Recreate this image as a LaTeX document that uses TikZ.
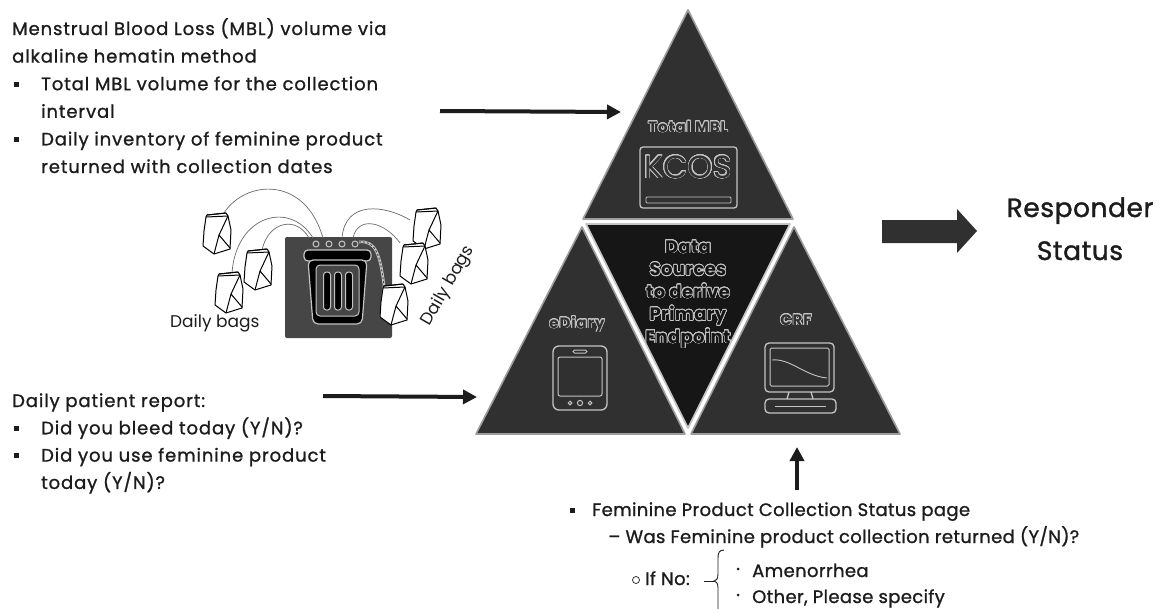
\documentclass[tikz,border=0pt]{standalone}
\usepackage{fontspec}
\setmainfont{Poppins}
\newfontfamily\leftface{Poppins}[FakeBold=1.1, LetterSpace=5]
\newfontfamily\bodyface{Poppins}[FakeBold=1.1, LetterSpace=2]
\newfontfamily\headface{Poppins}[FakeBold=1.3, LetterSpace=2]
\newfontfamily\tagface{Poppins Bold}[LetterSpace=6]
\newfontfamily\coreface{Poppins Bold}[LetterSpace=2]
\newfontfamily\lightface{Poppins}
\usepackage{contour}
\contourlength{0.7pt}
\contournumber{24}
\usetikzlibrary{arrows.meta}

\definecolor{ink}{HTML}{1C1C1C}
\definecolor{piece}{HTML}{303030}
\definecolor{core}{HTML}{161616}
\definecolor{rim}{HTML}{9C9C9C}
\definecolor{glow}{HTML}{C4C4C4}
\definecolor{binbg}{HTML}{464646}
\definecolor{wire}{HTML}{6A6A6A}

% outlined lettering on the dark panels
\newcommand{\hollow}[2]{\textcolor{#1}{\contour{glow}{#2}}}
% square list bullet and the matching hanging indent
\newcommand{\bulsq}[1]{\makebox[#1][l]{\hspace*{1.5pt}\rule[3.5pt]{5pt}{5pt}}}
\newcommand{\bulgap}{\hspace*{29pt}}

\tikzset{
  textblock/.style={anchor=base west, inner sep=0pt, text=ink},
  piecefill/.style={fill=piece, draw=rim, line width=1.6pt, line join=round},
  corefill/.style={fill=core, draw=glow, line width=1.6pt, line join=round},
  icon/.style={draw=glow, line width=1.3pt},
  feed/.style={draw=ink, line width=4pt, -{Triangle[length=14pt,width=14pt]}},
  wirecurve/.style={draw=wire, line width=0.7pt},
  tag/.style={inner sep=0pt, anchor=base, font=\fontsize{15}{18}\tagface},
  bagline/.style={draw=black, line width=1pt, line join=round},
  bag/.pic={
    \path[bagline, fill=white] (-10,-19) -- (9,-21) -- (11,-18) -- (14,-4) -- (13,15)
      -- (-3,20) -- (-14,12) -- (-13,-3) -- (-11,-17) -- cycle;
    \draw[bagline] (-11,-17) -- (11,-18);
    \draw[bagline] (-10,-19) -- (9,-21);
    \draw[bagline] (11,-18) -- (2,1) -- (-3,20) (2,1) -- (13,14);
  }
}

\begin{document}
\begin{tikzpicture}[x=1pt,y=-1pt]
\useasboundingbox (0,0) rectangle (1159,608);

% ---------- text on the left ----------
\node[textblock] (mbl) at (12,35) {\parbox[t]{450pt}{\fontsize{18}{27.6}\leftface
Menstrual Blood Loss (MBL) volume via\\
alkaline hematin method\\
\bulsq{29pt}Total MBL volume for the collection\\
\bulgap interval\\
\bulsq{29pt}Daily inventory of feminine product\\
\bulgap returned with collection dates}};

\node[textblock] (diary) at (12,407) {\parbox[t]{450pt}{\fontsize{18}{27.3}\leftface
Daily patient report:\\
\bulsq{29pt}Did you bleed today (Y/N)?\\
\bulsq{29pt}Did you use feminine product\\
\bulgap today (Y/N)?}};

% ---------- collection bin with daily bags ----------
\fill[binbg, rounded corners=2pt] (285,237) rectangle (392,338);

\draw[wirecurve] (224,213) .. controls (245,180) and (305,175) .. (323,238);
\draw[wirecurve] (232,273) .. controls (236,215) and (290,200) .. (313,238);
\draw[wirecurve] (262,250) .. controls (268,222) and (296,215) .. (309,238);
\draw[wirecurve] (410,220) .. controls (385,205) and (345,200) .. (342,238);
\draw[wirecurve] (400,243) .. controls (385,222) and (358,215) .. (353,238);

% lid, body, inner panel and slots of the bin
\draw[glow, line width=1.2pt, fill=black, rounded corners=4pt] (304,250) rectangle (371,261);
\draw[glow, line width=1.2pt, fill=black, rounded corners=5pt]
  (308,260) -- (367,260) -- (362,324) -- (313,324) -- cycle;
\draw[glow, line width=1pt, fill=binbg, rounded corners=4pt] (316,265) rectangle (359,316);
\foreach \sx in {327,338,349}
  \draw[glow, line width=1pt, fill=black, rounded corners=3pt] (\sx-3.5,272) rectangle (\sx+3.5,310);
\foreach \hx in {316,329,342,355}
  \draw[glow, line width=1pt] (\hx,244) circle (3);

% drain tube down the side
\draw[glow, line width=2.6pt] (359,242) .. controls (376,240) and (380,255) .. (384,285) -- (381,318);
\draw[binbg, line width=0.9pt, dash pattern=on 2pt off 2pt]
  (359,242) .. controls (376,240) and (380,255) .. (384,285) -- (381,318);
\draw[glow, line width=2.6pt] (384,288) -- (394,288);

\pic at (217,234) {bag};
\pic at (258,270) {bag};
\pic at (229,293) {bag};
\pic at (427,229) {bag};
\pic at (414,264) {bag};
\pic at (394,305) {bag};

\node[textblock, font=\fontsize{17}{20}\lightface] (bagsL) at (170,327) {Daily bags};
\node[inner sep=0pt, text=ink, rotate=60, font=\fontsize{17}{20}\lightface] (bagsR) at (448,286) {Daily bags};

% ---------- pyramid of data sources ----------
\filldraw[piecefill] (688,10) -- (583,219) -- (793,219) -- cycle;
\filldraw[corefill] (586,224) -- (790,224) -- (688,428) -- cycle;
\filldraw[piecefill] (582,227) -- (476,434) -- (685,434) -- cycle;
\filldraw[piecefill] (794,227) -- (691,434) -- (900,434) -- cycle;

\coordinate (topIn) at (621,112);
\coordinate (leftIn) at (477,397);
\coordinate (baseIn) at (797,447);

% top panel: total MBL
\node[tag] (totalmbl) at (688,132) {\hollow{piece}{Total MBL}};
\draw[icon, rounded corners=3pt] (640,147) rectangle (737,208);
\node[inner sep=0pt, anchor=base, font=\fontsize{32}{32}\lightface] (kcos) at (688,178) {\hollow{piece}{KCOS}};
\draw[glow, line width=0.8pt, rounded corners=1pt] (646,197) rectangle (731,203);

% centre panel
\node[inner sep=0pt, anchor=base] (endpoint) at (688,253) {\parbox[t]{170pt}{\centering
\fontsize{18}{22.5}\coreface
\hollow{core}{Data}\\ \hollow{core}{Sources}\\ \hollow{core}{to derive}\\
\hollow{core}{Primary}\\ \hollow{core}{Endpoint}}};

% left panel: eDiary phone
\node[tag] (ediary) at (577,328) {\hollow{piece}{eDiary}};
\draw[icon, rounded corners=6pt] (553,346) rectangle (607,410);
\draw[icon, line width=1pt, rounded corners=2pt] (558,357) rectangle (602,396);
\draw[icon, line width=1pt, rounded corners=1.5pt] (573,350) rectangle (587,353);
\draw[icon, line width=1pt] (570,403) circle (1.8) (580,403) circle (2.6) (590,403) circle (1.8);

% right panel: CRF computer
\node[tag] (crf) at (796,325) {\hollow{piece}{CRF}};
\draw[icon, rounded corners=4pt] (765,343) rectangle (834,392);
\draw[icon, line width=1pt, rounded corners=1.5pt] (770,348) rectangle (829,386);
\draw[glow, line width=0.9pt] (772,360) .. controls (790,358) and (805,376) .. (827,378);
\draw[icon] (789,392) -- (787,399) (811,392) -- (813,399);
\draw[icon, rounded corners=4pt] (765,399) rectangle (836,413);
\draw[glow, line width=0.7pt] (775,406) -- (826,406);

% ---------- feeds into the pyramid ----------
\coordinate (mblOut) at (440,111);
\coordinate (diaryOut) at (323,396);
\coordinate (crfOut) at (797,490);
\draw[feed] (mblOut) -- (topIn);
\draw[feed] (diaryOut) -- (leftIn);
\draw[feed] (crfOut) -- (baseIn);

% ---------- outcome ----------
\fill[piece] (882,220) -- (957,220) -- (957,209) -- (977,231) -- (957,253) -- (957,243) -- (882,243) -- cycle;
\node[inner sep=0pt, anchor=base, text=ink, font=\fontsize{26.5}{30}\headface] (resp) at (1080,217) {Responder};
\node[inner sep=0pt, anchor=base, text=ink, font=\fontsize{26.5}{30}\headface] (stat) at (1080,260) {Status};

% ---------- CRF page description ----------
\node[textblock, font=\fontsize{18}{20}\bodyface] (fpc) at (568,516) {\bulsq{24pt}Feminine Product Collection Status page};
\node[textblock, font=\fontsize{18}{20}\bodyface] (returned) at (608,543) {– Was Feminine product collection returned (Y/N)?};
\node[circle, draw=ink, line width=0.7pt, minimum size=7pt, inner sep=0pt] (ifmark) at (636,580) {};
\node[textblock, font=\fontsize{18}{20}\bodyface] (ifno) at (645,585) {If No:};
\coordinate (braceTip) at (714,581);
\draw[ink, line width=0.9pt] (704,581) -- (braceTip);
\draw[ink, line width=0.9pt] (724,550) .. controls (719,550) and (718,553) .. (718,558) -- (718,574)
  .. controls (718,579) and (716,581) .. (braceTip)
  .. controls (716,581) and (718,583) .. (718,588) -- (718,612);
\fill[ink] (738,569) circle (1.5);
\fill[ink] (738,595) circle (1.5);
\node[textblock, font=\fontsize{18}{20}\bodyface] (amen) at (752,577) {Amenorrhea};
\node[textblock, font=\fontsize{18}{20}\bodyface] (other) at (752,603) {Other, Please specify};
\end{tikzpicture}
\end{document}
